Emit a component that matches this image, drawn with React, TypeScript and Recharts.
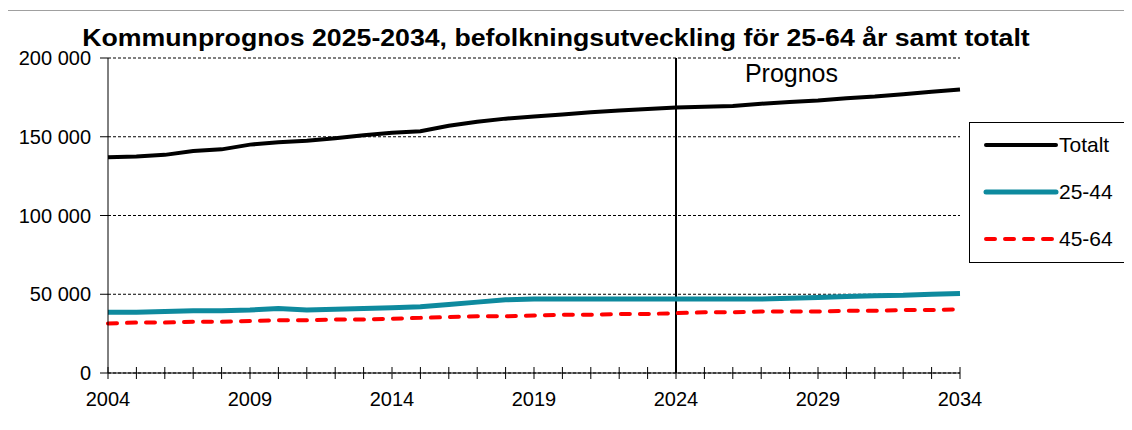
import {
  LineChart,
  Line,
  XAxis,
  YAxis,
  CartesianGrid,
  ReferenceLine,
} from "recharts";

const years = [
  2004, 2005, 2006, 2007, 2008, 2009, 2010, 2011, 2012, 2013, 2014, 2015, 2016,
  2017, 2018, 2019, 2020, 2021, 2022, 2023, 2024, 2025, 2026, 2027, 2028, 2029,
  2030, 2031, 2032, 2033, 2034,
];

const totalt = [
  137000, 137500, 138500, 141000, 142000, 145000, 146500, 147500, 149000,
  151000, 152500, 153500, 157000, 159500, 161500, 162800, 164200, 165600,
  166600, 167600, 168500, 169000, 169500, 171000, 172000, 173000, 174500,
  175500, 177000, 178500, 180000,
];

const age2544 = [
  38500, 38500, 39000, 39500, 39500, 40000, 41000, 40000, 40500, 41000, 41500,
  42000, 43500, 45000, 46500, 47000, 47000, 47000, 47000, 47000, 47000, 47000,
  47000, 47000, 47500, 48000, 48500, 49000, 49300, 50000, 50500,
];

const age4564 = [
  31500, 32000, 32000, 32500, 32500, 33000, 33500, 33500, 34000, 34000, 34500,
  35000, 35500, 36000, 36000, 36500, 37000, 37000, 37500, 37500, 38000, 38500,
  38500, 39000, 39000, 39000, 39500, 39500, 40000, 40000, 40500,
];

const yTicks = [0, 50000, 100000, 150000, 200000];
const labelYears = [2004, 2009, 2014, 2019, 2024, 2029, 2034];

const data = years.map((y, i) => ({
  year: y,
  Totalt: totalt[i],
  "25-44": age2544[i],
  "45-64": age4564[i],
}));

const font = "Arial, 'Liberation Sans', sans-serif";

function fmt(v: number) {
  if (v === 0) return "0";
  const s = String(v);
  return s.slice(0, s.length - 3) + " " + s.slice(-3);
}

// tick marks cross the x axis, only every fifth year gets a label
function YearTick(props: any) {
  const { x, y, payload } = props;
  return (
    <g>
      <line x1={x} x2={x} y1={y - 6} y2={y + 6} stroke="#000" strokeWidth={1} />
      {labelYears.includes(payload.value) && (
        <text x={x} y={y + 33} textAnchor="middle" fontSize={20} fontFamily={font} fill="#000">
          {payload.value}
        </text>
      )}
    </g>
  );
}

function LegendBox() {
  const rows = [
    { name: "Totalt", color: "#000000", width: 4, dash: undefined },
    { name: "25-44", color: "#0E8A9E", width: 5, dash: undefined },
    { name: "45-64", color: "#FF0000", width: 4, dash: "9 10" },
  ];
  return (
    <div
      style={{
        position: "absolute",
        left: 969,
        top: 122,
        width: 159,
        height: 141,
        border: "1px solid #000",
        background: "#fff",
        boxSizing: "border-box",
      }}
    >
      <svg width={157} height={139} style={{ display: "block" }}>
        {rows.map((r, i) => (
          <g key={r.name}>
            <line
              x1={16}
              x2={86}
              y1={22 + i * 47}
              y2={22 + i * 47}
              stroke={r.color}
              strokeWidth={r.width}
              strokeDasharray={r.dash}
              strokeLinecap="round"
            />
            <text x={89} y={29 + i * 47} fontSize={21} fontFamily={font} fill="#000">
              {r.name}
            </text>
          </g>
        ))}
      </svg>
    </div>
  );
}

export default function App() {
  return (
    <div style={{ margin: -8, width: 1132, height: 430, position: "relative", background: "#fff", overflow: "hidden" }}>
      <div style={{ position: "absolute", left: 0, top: 0 }}>
        <LineChart
          width={1132}
          height={430}
          data={data}
          margin={{ top: 58, right: 172, bottom: 0, left: 8 }}
        >
          <CartesianGrid
            horizontal={true}
            vertical={false}
            stroke="#000"
            strokeDasharray="3 2"
            strokeWidth={1}
          />
          <XAxis
            dataKey="year"
            type="number"
            domain={[2004, 2034]}
            ticks={years}
            interval={0}
            height={57}
            tickLine={false}
            tickSize={0}
            tickMargin={0}
            tick={<YearTick />}
            axisLine={{ stroke: "#000", strokeWidth: 1 }}
          />
          <YAxis
            domain={[0, 200000]}
            ticks={yTicks}
            width={100}
            tickFormatter={fmt}
            tickSize={8}
            tickMargin={9}
            tick={{ fontSize: 20, fontFamily: font, fill: "#000" }}
            tickLine={{ stroke: "#000" }}
            axisLine={{ stroke: "#000", strokeWidth: 1 }}
          />
          <ReferenceLine
            x={2024}
            stroke="#000"
            strokeWidth={2}
            label={{
              value: "Prognos",
              position: "insideTopRight",
              offset: 0,
              dx: 162,
              dy: 6,
              fontSize: 25,
              fontFamily: font,
              fill: "#000",
            }}
          />
          <Line
            dataKey="45-64"
            stroke="#FF0000"
            strokeWidth={4}
            strokeDasharray="9 10"
            strokeLinecap="round"
            dot={false}
            type="linear"
            isAnimationActive={false}
          />
          <Line
            dataKey="25-44"
            stroke="#0E8A9E"
            strokeWidth={5}
            dot={false}
            type="linear"
            isAnimationActive={false}
          />
          <Line
            dataKey="Totalt"
            stroke="#000"
            strokeWidth={4}
            dot={false}
            type="linear"
            isAnimationActive={false}
          />
        </LineChart>
      </div>
      <LegendBox />
      <div
        style={{
          position: "absolute",
          left: 0,
          top: 27,
          width: 1112,
          textAlign: "center",
          fontFamily: font,
          fontWeight: "bold",
          fontSize: 23,
          lineHeight: "23px",
          color: "#000",
          whiteSpace: "nowrap",
          transform: "scaleX(1.16)",
        }}
      >
        Kommunprognos 2025-2034, befolkningsutveckling för 25-64 år samt totalt
      </div>
      <div
        style={{
          position: "absolute",
          left: 5,
          top: 10,
          width: 1140,
          height: 440,
          borderLeft: "1px solid #808080",
          borderTop: "1px solid #a0a0a0",
          pointerEvents: "none",
        }}
      />
    </div>
  );
}
